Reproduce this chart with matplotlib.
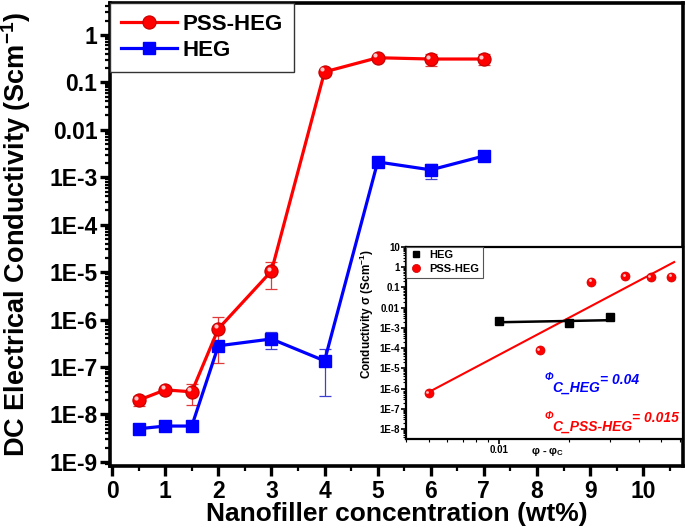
import numpy as np
import matplotlib
matplotlib.use("Agg")
import matplotlib.pyplot as plt
from matplotlib.ticker import FixedLocator, NullFormatter, LogLocator, FixedFormatter
from matplotlib.transforms import ScaledTranslation

plt.rcParams['font.family'] = ['Liberation Sans', 'DejaVu Sans']
plt.rcParams['font.weight'] = 'bold'
plt.rcParams['axes.labelweight'] = 'bold'
plt.rcParams['mathtext.fontset'] = 'custom'
plt.rcParams['mathtext.rm'] = 'Liberation Sans:bold'
plt.rcParams['mathtext.bf'] = 'Liberation Sans:bold'
plt.rcParams['mathtext.it'] = 'Liberation Sans:bold:italic'
plt.rcParams['mathtext.default'] = 'rm'

# ---------------- data (main plot) ----------------
conc = [0.5, 1.0, 1.5, 2, 3, 4, 5, 6, 7]
pss_heg = [2.0e-8, 3.3e-8, 3.0e-8, 6.4e-7, 1.05e-5, 0.166, 0.33, 0.31, 0.31]
pss_heg_err = [0.5e-8, 0.2e-8, 1.4e-8, 0.52e-6, 6e-6, 0.008, 0.015, 0.09, 0.08]
heg = [5.0e-9, 5.7e-9, 5.7e-9, 2.8e-7, 3.9e-7, 1.35e-7, 2.1e-3, 1.43e-3, 2.8e-3]
heg_err = [0.2e-9, 0.2e-9, 0.2e-9, 0.4e-7, 1.5e-7, 1.1e-7, 0.25e-3, 0.5e-3, 0.15e-3]

y_ticks = [1, 0.1, 0.01, 1e-3, 1e-4, 1e-5, 1e-6, 1e-7, 1e-8, 1e-9]
y_ticklabels = ['1', '0.1', '0.01', '1E-3', '1E-4', '1E-5', '1E-6', '1E-7', '1E-8', '1E-9']
x_ticks = [0, 1, 2, 3, 4, 5, 6, 7, 8, 9, 10]

# ---------------- data (inset) ----------------
inset_pss_x = [0.005, 0.015, 0.025, 0.035, 0.045, 0.055]
inset_pss_y = [5.9e-7, 7.9e-5, 0.19, 0.35, 0.33, 0.34]
inset_pss_fit_x = [0.005, 0.0568]
inset_pss_fit_y = [6.6e-7, 1.8]
inset_heg_x = [0.01, 0.02, 0.03]
inset_heg_y = [2.2e-3, 1.66e-3, 3.3e-3]
inset_heg_fit_x = [0.01, 0.03]
inset_heg_fit_y = [1.9e-3, 2.4e-3]
inset_y_ticks = [10, 1, 0.1, 0.01, 1e-3, 1e-4, 1e-5, 1e-6, 1e-7, 1e-8]
inset_y_ticklabels = ['10', '1', '0.1', '0.01', '1E-3', '1E-4', '1E-5', '1E-6', '1E-7', '1E-8']

RED = '#ff0000'
BLUE = '#0000ff'

fig = plt.figure(figsize=(6.88, 5.29), dpi=100)
W, H = 688, 529
ax = fig.add_axes([110 / W, 1 - 466 / H, (683 - 110) / W, (466 - 3) / H])

# error bars
ax.errorbar(conc, pss_heg, yerr=pss_heg_err, fmt='none', ecolor='#e03a3a',
            elinewidth=0.9, capsize=4, capthick=0.9, zorder=2)
ax.errorbar(conc, heg, yerr=heg_err, fmt='none', ecolor='#4040d0',
            elinewidth=0.9, capsize=4, capthick=0.9, zorder=2)

ax.plot(conc, pss_heg, '-o', color=RED, lw=2.3, ms=9.5, mfc=RED, mec='#c00000',
        mew=0.8, label='PSS-HEG', zorder=4)
ax.plot(conc, heg, '-s', color=BLUE, lw=2.3, ms=8.5, mfc=BLUE, mec=BLUE,
        label='HEG', zorder=3)
# ball highlight
hl = ax.transData + ScaledTranslation(-1.8 / 72, 1.8 / 72, fig.dpi_scale_trans)
ax.plot(conc, pss_heg, 'o', ms=3.0, color='#ffc8c8', mec='none', transform=hl, zorder=5)

ax.set_yscale('log')
ax.set_ylim(8.2e-10, 4.7)
ax.set_xlim(-0.04, 10.75)
ax.yaxis.set_major_locator(FixedLocator(y_ticks))
ax.yaxis.set_major_formatter(FixedFormatter(y_ticklabels))
ax.yaxis.set_minor_locator(LogLocator(base=10, subs=np.arange(2, 10), numticks=30))
ax.yaxis.set_minor_formatter(NullFormatter())
ax.set_xticks(x_ticks)
ax.set_xticks(np.arange(0.5, 10.6, 1.0), minor=True)

for s in ax.spines.values():
    s.set_linewidth(2.6)
ax.tick_params(which='major', direction='out', length=7, width=2.4, labelsize=16.5, pad=2)
ax.tick_params(which='minor', direction='out', length=3.5, width=1.6)
ax.tick_params(axis='x', which='major', pad=3)

ax.set_xlabel('Nanofiller concentration (wt%)', fontsize=19)
ax.xaxis.set_label_coords(0.5, -0.078)
ax.set_ylabel('DC Electrical Conductivity (Scm$^{-1}$)', fontsize=19.5)
ax.yaxis.set_label_coords(-0.134, 0.5)

leg = ax.legend(loc='upper left', bbox_to_anchor=(0, 1), borderaxespad=0,
                fontsize=16, handlelength=2.5, handletextpad=0.25, labelspacing=0.22,
                borderpad=0.5, fancybox=False, framealpha=1, edgecolor='#333333')
leg.get_frame().set_linewidth(1.0)

# ---------------- inset ----------------
ax2 = fig.add_axes([406 / W, 1 - 439 / H, 277 / W, 192 / H])
ax2.set_xscale('log')
ax2.set_yscale('log')
ax2.plot(inset_pss_fit_x, inset_pss_fit_y, '-', color=RED, lw=1.5, zorder=2)
ax2.plot(inset_heg_fit_x, inset_heg_fit_y, '-', color='black', lw=1.8, zorder=2)
ax2.plot(inset_heg_x, inset_heg_y, 's', color='black', ms=5.5, label='HEG', zorder=3)
ax2.plot(inset_pss_x, inset_pss_y, 'o', color=RED, ms=6.5, mec='#d00000', mew=0.5,
         label='PSS-HEG', zorder=3)
hl2 = ax2.transData + ScaledTranslation(-1.0 / 72, 1.0 / 72, fig.dpi_scale_trans)
ax2.plot(inset_pss_x, inset_pss_y, 'o', ms=2, color='#ffc8c8', mec='none', transform=hl2, zorder=4)

ax2.set_xlim(0.004, 0.062)
ax2.set_ylim(3.2e-9, 10)
ax2.yaxis.set_major_locator(FixedLocator(inset_y_ticks))
ax2.yaxis.set_major_formatter(FixedFormatter(inset_y_ticklabels))
ax2.yaxis.set_minor_locator(LogLocator(base=10, subs=np.arange(2, 10), numticks=30))
ax2.yaxis.set_minor_formatter(NullFormatter())
ax2.xaxis.set_major_locator(FixedLocator([0.01]))
ax2.xaxis.set_major_formatter(FixedFormatter(['0.01']))
ax2.xaxis.set_minor_locator(LogLocator(base=10, subs=np.arange(2, 10), numticks=30))
ax2.xaxis.set_minor_formatter(NullFormatter())
for s in ax2.spines.values():
    s.set_linewidth(1.6)
ax2.tick_params(which='major', direction='out', length=3.5, width=1.2, labelsize=7, pad=1)
ax2.tick_params(which='minor', direction='out', length=2, width=0.8)

ax2.set_xlabel('φ - φ$_\\mathrm{C}$', fontsize=8)
ax2.xaxis.set_label_coords(0.51, -0.035)
ax2.set_ylabel('Conductivity σ (Scm$^{-1}$)', fontsize=8.5)
ax2.yaxis.set_label_coords(-0.11, 0.65)

leg2 = ax2.legend(loc='upper left', bbox_to_anchor=(0, 1), borderaxespad=0,
                  fontsize=8, handlelength=1.2, handletextpad=0.6, labelspacing=0.35,
                  borderpad=0.3, fancybox=False, framealpha=1, edgecolor='#555555',
                  markerscale=0.9)
leg2.get_frame().set_linewidth(0.8)

# phi_c annotations
def phi_label(axis, x, y, main, value, color):
    t = axis.text(x, y, main, transform=axis.transAxes, color=color, fontsize=10,
                  fontstyle='italic', fontweight='bold', ha='left', va='baseline')
    axis.annotate('Φ', xy=(0, 1), xycoords=t, ha='right', va='bottom', color=color,
                  fontsize=7.5, fontstyle='italic', fontweight='bold', xytext=(1, -1),
                  textcoords='offset points')
    axis.annotate(value, xy=(1, 1), xycoords=t, ha='left', va='center', color=color,
                  fontsize=10, fontstyle='italic', fontweight='bold', xytext=(0, 1),
                  textcoords='offset points')

phi_label(ax2, 0.527, 0.245, 'C_HEG', '= 0.04', BLUE)
phi_label(ax2, 0.527, 0.045, 'C_PSS-HEG', '= 0.015', RED)

fig.savefig('out.png', dpi=100)
